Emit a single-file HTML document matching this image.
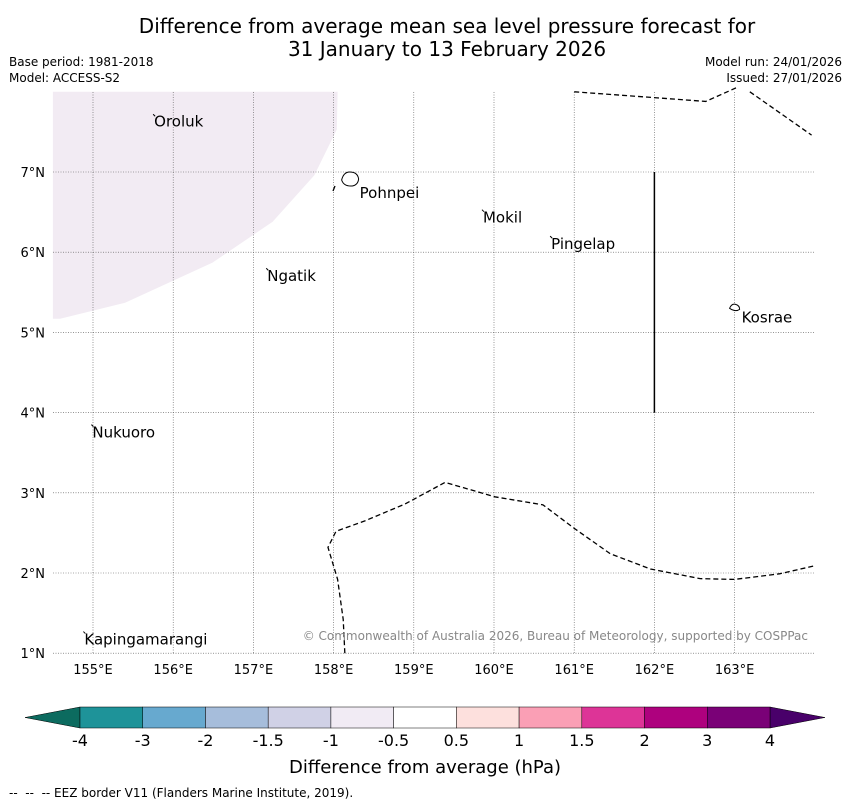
<!DOCTYPE html>
<html><head><meta charset="utf-8"><style>
body{margin:0;background:#fff;}
svg{display:block;font-family:"DejaVu Sans","Liberation Sans",sans-serif;}
</style></head><body>
<svg id="c" width="850" height="804" viewBox="0 0 850 804">
<text x="447" y="33" font-size="20" text-anchor="middle">Difference from average mean sea level pressure forecast for</text>
<text x="447" y="56" font-size="20" text-anchor="middle">31 January to 13 February 2026</text>
<text x="9" y="66" font-size="12">Base period: 1981-2018</text>
<text x="9" y="82" font-size="12">Model: ACCESS-S2</text>
<text x="842" y="66" font-size="12" text-anchor="end">Model run: 24/01/2026</text>
<text x="842" y="82" font-size="12" text-anchor="end">Issued: 27/01/2026</text>
<g id="map"></g>
<g id="cbar"></g>
<text x="425" y="773" font-size="18" text-anchor="middle">Difference from average (hPa)</text>
<text x="9" y="797" font-size="12">--&#160;&#160;--&#160;&#160;-- EEZ border V11 (Flanders Marine Institute, 2019).</text>
</svg>
<script>
const lonTicks=[155,156,157,158,159,160,161,162,163];
const latTicks=[1,2,3,4,5,6,7];
const places=["Oroluk","Pohnpei","Mokil","Pingelap","Ngatik","Kosrae","Nukuoro","Kapingamarangi"];
const placeLon=[155.75,158.2,159.85,160.7,157.16,163.0,154.98,154.88];
const placeLat=[7.72,6.9,6.53,6.2,5.8,5.3,3.85,1.27];
const shadeLon=[154.5,158.05,158.04,157.76,157.24,156.49,155.4,154.59,154.5];
const shadeLat=[8,8,7.53,6.96,6.38,5.87,5.37,5.17,5.17];
const eezTopLon=[161,161.96,162.64,163.02];const eezTopLat=[8,7.93,7.88,8.05];
const eezTop2Lon=[163.19,163.96];const eezTop2Lat=[8,7.46];
const eezBotLon=[158.14,158.12,158.05,157.93,158.03,158.39,158.89,159.39,160.01,160.61,161.01,161.45,161.95,162.57,163.0,163.56,164];
const eezBotLat=[1,1.42,1.92,2.32,2.52,2.65,2.86,3.13,2.95,2.85,2.55,2.24,2.05,1.93,1.92,1.99,2.09];
const cbColors=["#1e9399","#67a9cf","#a6bddb","#d0d1e6","#f1ebf4","#ffffff","#fde0dd","#fa9fb5","#dd3497","#ae017e","#7a0177"];
const cbLabels=["-4","-3","-2","-1.5","-1","-0.5","0.5","1","1.5","2","3","4"];
const NS="http://www.w3.org/2000/svg";
const X=l=>93+(l-155)*80.2, Y=t=>172+(7-t)*80.2;
function mk(p,t,a){const e=document.createElementNS(NS,t);for(const k in a)e.setAttribute(k,a[k]);p.appendChild(e);return e;}
const map=document.getElementById('map');
let sh=mk(map,'polygon',{points:shadeLon.map((l,i)=>X(l)+','+Y(shadeLat[i])).join(' '),fill:'#f2ebf3'});


lonTicks.forEach(l=>{let g=mk(map,'line',{x1:X(l),x2:X(l),y1:92,y2:654,stroke:'#555','stroke-width':0.6,'stroke-dasharray':'1,1.5'});


let t=mk(map,'text',{x:X(l),y:674,'font-size':13,'text-anchor':'middle'});t.textContent=l+'°E';

});
latTicks.forEach(l=>{let g=mk(map,'line',{x1:53,x2:814,y1:Y(l),y2:Y(l),stroke:'#555','stroke-width':0.6,'stroke-dasharray':'1,1.5'});


let t=mk(map,'text',{x:45,y:Y(l)+5,'font-size':13,'text-anchor':'end'});t.textContent=l+'°N';

});
[[eezTopLon,eezTopLat],[eezTop2Lon,eezTop2Lat],[eezBotLon,eezBotLat]].forEach(([a,b])=>{
let p=mk(map,'polyline',{points:a.map((l,i)=>X(l)+','+Y(b[i])).join(' '),fill:'none',stroke:'#000','stroke-width':1.3,'stroke-dasharray':'5,3'});

});
let vl=mk(map,'line',{x1:X(162),x2:X(162),y1:Y(7),y2:Y(4),stroke:'#000','stroke-width':1.5});


mk(map,'line',{x1:333,y1:191,x2:335,y2:186,stroke:'#000','stroke-width':1.3});
places.forEach((n,i)=>{const x=X(placeLon[i]),y=Y(placeLat[i]);
if(n==='Pohnpei'){let o=mk(map,'path',{d:`M${x-8},${y} q2,-8 8,-8 q8,0 9,7 q-1,7 -8,7 q-7,0 -9,-6z`,fill:'#fff',stroke:'#000','stroke-width':1});

}
else if(n==='Kosrae'){let o=mk(map,'path',{d:`M${x-5},${y} q2,-5 6,-4 q4,1 4,5 q-4,3 -10,-1z`,fill:'#fff',stroke:'#000','stroke-width':1});

}
else mk(map,'line',{x1:x,y1:y,x2:x+2,y2:y+2,stroke:'#000','stroke-width':1});
const off={Pohnpei:[10,13],Kosrae:[7,9],Oroluk:[1,7]}[n]||[1,8];
let t=mk(map,'text',{x:x+off[0],y:y+off[1]+5,'font-size':15});t.textContent=n;

});
let cp=mk(map,'text',{x:808,y:640,'font-size':12,fill:'#888','text-anchor':'end'});
cp.textContent='© Commonwealth of Australia 2026, Bureau of Meteorology, supported by COSPPac';


const cb=document.getElementById('cbar');const x0=80,x1=770,w=(x1-x0)/cbColors.length,y0=707,h=21;
let lt=mk(cb,'polygon',{points:`25,${y0+h/2} ${x0},${y0} ${x0},${y0+h}`,fill:'#0c6b5f',stroke:'#000','stroke-width':0.5});


let rt=mk(cb,'polygon',{points:`825,${y0+h/2} ${x1},${y0} ${x1},${y0+h}`,fill:'#49006a',stroke:'#000','stroke-width':0.5});


cbColors.forEach((c,i)=>{let r=mk(cb,'rect',{x:x0+i*w,y:y0,width:w,height:h,fill:c,stroke:'#000','stroke-width':0.5});

});
cbLabels.forEach((s,i)=>{let t=mk(cb,'text',{x:x0+i*w,y:746,'font-size':16,'text-anchor':'middle'});t.textContent=s;

});
</script>
</body></html>
